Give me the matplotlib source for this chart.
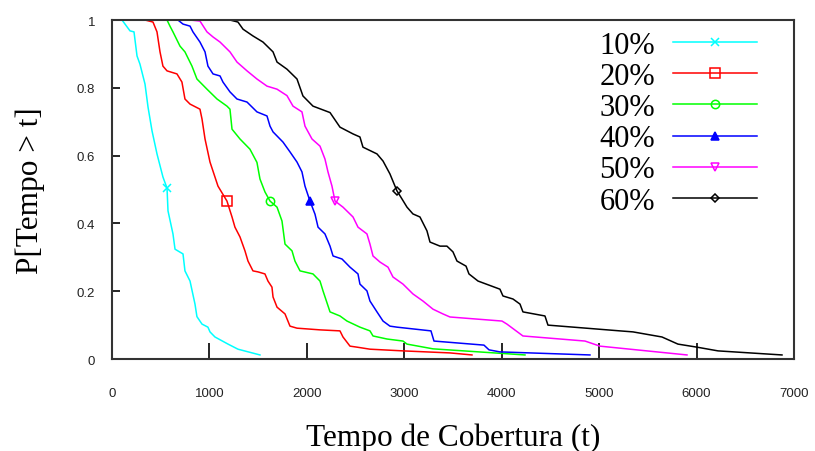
import numpy as np
import matplotlib
matplotlib.use("Agg")
import matplotlib.pyplot as plt

# tempo de cobertura (t) vs P[Tempo > t] for each fraction of nodes
labels = ["10%", "20%", "30%", "40%", "50%", "60%"]

t10 = [103, 185, 226, 257, 287, 339, 370, 411, 462, 523, 565, 575, 626, 647, 729, 749,
       801, 852, 872, 924, 985, 1006, 1057, 1191, 1293, 1519]
p10 = [1.0, 0.968, 0.965, 0.894, 0.870, 0.811, 0.743, 0.673, 0.605, 0.537, 0.504, 0.437,
       0.369, 0.324, 0.310, 0.260, 0.230, 0.162, 0.125, 0.103, 0.094, 0.080, 0.065, 0.044,
       0.029, 0.012]

t20 = [339, 421, 462, 493, 523, 565, 667, 718, 749, 801, 903, 924, 955, 1006, 1088, 1180,
       1232, 1262, 1314, 1365, 1396, 1447, 1499, 1570, 1601, 1642, 1653, 1694, 1776, 1827,
       1899, 2135, 2340, 2371, 2443, 2515, 2648, 2987, 3469, 3695]
p20 = [1.0, 0.994, 0.965, 0.906, 0.864, 0.850, 0.841, 0.817, 0.767, 0.752, 0.737, 0.708,
       0.649, 0.581, 0.510, 0.466, 0.419, 0.389, 0.360, 0.319, 0.289, 0.260, 0.257, 0.251,
       0.230, 0.212, 0.183, 0.153, 0.133, 0.097, 0.091, 0.086, 0.083, 0.065, 0.038, 0.035,
       0.029, 0.024, 0.018, 0.012]

t30 = [565, 595, 626, 698, 749, 821, 872, 975, 1078, 1180, 1211, 1232, 1314, 1416, 1488,
       1519, 1570, 1622, 1694, 1745, 1776, 1848, 1878, 1930, 2063, 2135, 2166, 2238, 2340,
       2412, 2545, 2648, 2679, 2823, 2987, 3028, 3295, 4239]
p30 = [1.0, 0.982, 0.965, 0.923, 0.906, 0.864, 0.826, 0.796, 0.767, 0.746, 0.737, 0.678,
       0.649, 0.619, 0.580, 0.531, 0.493, 0.466, 0.448, 0.407, 0.339, 0.319, 0.289, 0.260,
       0.251, 0.230, 0.201, 0.139, 0.127, 0.112, 0.094, 0.083, 0.068, 0.059, 0.053, 0.044,
       0.030, 0.012]

t40 = [677, 729, 801, 831, 903, 955, 985, 1037, 1109, 1139, 1211, 1283, 1386, 1488, 1591,
       1622, 1653, 1755, 1827, 1899, 1950, 1981, 2032, 2084, 2115, 2186, 2238, 2269, 2361,
       2443, 2525, 2545, 2617, 2648, 2720, 2782, 2853, 2925, 3274, 3305, 3818, 3870, 3982,
       4906]
p40 = [1.0, 0.988, 0.982, 0.965, 0.935, 0.906, 0.864, 0.841, 0.835, 0.817, 0.788, 0.767,
       0.758, 0.729, 0.717, 0.687, 0.670, 0.640, 0.611, 0.581, 0.552, 0.510, 0.466, 0.427,
       0.389, 0.369, 0.333, 0.304, 0.295, 0.271, 0.251, 0.221, 0.201, 0.171, 0.139, 0.112,
       0.097, 0.094, 0.083, 0.053, 0.041, 0.027, 0.021, 0.012]

t50 = [801, 903, 975, 1037, 1109, 1211, 1283, 1386, 1488, 1591, 1694, 1796, 1858, 1950,
       1981, 2053, 2135, 2186, 2217, 2258, 2289, 2371, 2474, 2525, 2617, 2648, 2679, 2751,
       2833, 2884, 2987, 3089, 3192, 3295, 3397, 3469, 4003, 4054, 4218, 4855, 5008, 5902]
p50 = [1.0, 0.997, 0.965, 0.950, 0.935, 0.906, 0.876, 0.850, 0.826, 0.805, 0.796, 0.777,
       0.746, 0.729, 0.687, 0.649, 0.628, 0.590, 0.552, 0.510, 0.466, 0.448, 0.419, 0.389,
       0.369, 0.339, 0.304, 0.286, 0.271, 0.242, 0.221, 0.192, 0.171, 0.147, 0.133, 0.124,
       0.112, 0.103, 0.068, 0.053, 0.038, 0.012]

t60 = [1129, 1211, 1293, 1345, 1447, 1550, 1653, 1694, 1796, 1899, 1960, 2063, 2238, 2340,
       2474, 2545, 2576, 2720, 2782, 2853, 2925, 2977, 3028, 3089, 3161, 3233, 3264, 3367,
       3438, 3500, 3541, 3634, 3664, 3757, 3982, 4013, 4116, 4188, 4218, 4444, 4475, 5214,
       5348, 5645, 5809, 6004, 6220, 6877]
p60 = [1.0, 1.0, 0.994, 0.973, 0.953, 0.935, 0.906, 0.876, 0.855, 0.826, 0.776, 0.746,
       0.727, 0.684, 0.664, 0.655, 0.625, 0.605, 0.584, 0.546, 0.496, 0.472, 0.448, 0.428,
       0.419, 0.378, 0.345, 0.333, 0.333, 0.316, 0.289, 0.274, 0.251, 0.230, 0.206, 0.186,
       0.177, 0.162, 0.139, 0.127, 0.100, 0.083, 0.080, 0.065, 0.044, 0.035, 0.024, 0.012]

# index of the point that carries each curve's marker
mark_idx = [10, 15, 17, 22, 20, 20]

series = [(t10, p10), (t20, p20), (t30, p30), (t40, p40), (t50, p50), (t60, p60)]
colors = ["#00ffff", "#ff0000", "#00ff00", "#0000ff", "#ff00ff", "#000000"]
markers = ["x", "s", "o", "^", "v", "D"]
msizes = [6, 7, 6, 6, 6, 4]

fig = plt.figure(figsize=(8.15, 4.52), dpi=100)
ax = fig.add_axes([0.1374, 0.2035, 0.9742 - 0.1374, 0.9535 - 0.2035])

for (t, p), lab, c, m, ms, mi in zip(series, labels, colors, markers, msizes, mark_idx):
    face = c if m == "^" else "none"
    ax.plot(t, p, color=c, lw=1.1, marker=m, ms=ms, mfc=face, mec=c, mew=1.1,
            markevery=[mi], label=lab)

ax.set_xlim(0, 7000)
ax.set_ylim(0, 1)
ax.set_xticks(np.arange(0, 7001, 1000))
ax.set_yticks([0, 0.2, 0.4, 0.6, 0.8, 1])
ax.set_yticklabels(["0", "0.2", "0.4", "0.6", "0.8", "1"])

for lbl in ax.get_xticklabels() + ax.get_yticklabels():
    lbl.set_fontfamily("Liberation Sans")
    lbl.set_fontsize(9.5)
    lbl.set_color("#222222")

ax.tick_params(axis="x", direction="in", length=11.5, width=1.2, pad=20, top=False)
ax.tick_params(axis="y", direction="in", length=6, width=1.2, pad=12, right=False)
for s in ax.spines.values():
    s.set_linewidth(1.5)
    s.set_color("#333333")

serif = "Liberation Serif"
ax.set_xlabel("Tempo de Cobertura (t)", family=serif, fontsize=22.5, labelpad=17)
ax.set_ylabel("P[Tempo > t]", family=serif, fontsize=22.5, labelpad=23)

leg = ax.legend(loc="upper right", bbox_to_anchor=(0.946, 0.968), frameon=False,
                markerfirst=False, prop={"family": serif, "size": 22},
                handlelength=2.75, labelspacing=0.07, handletextpad=0.6,
                borderaxespad=0, borderpad=0)

fig.savefig("out.png", dpi=100)
